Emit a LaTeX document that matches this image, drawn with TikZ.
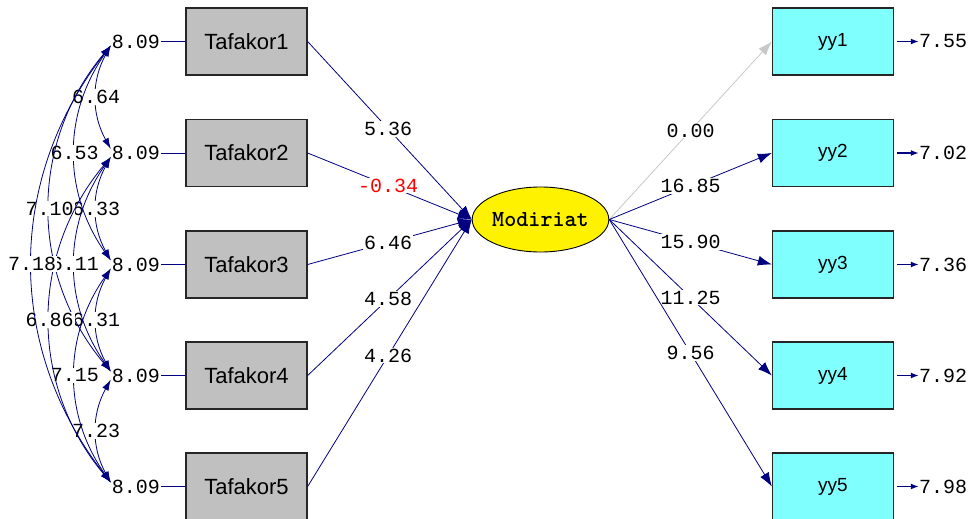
\documentclass[tikz,border=0pt]{standalone}
\usepackage{fontspec}
\usetikzlibrary{shapes.geometric,arrows.meta}
\newfontfamily\numfont{Liberation Mono}
\newfontfamily\boxfont{Liberation Sans}
\definecolor{pathblue}{RGB}{0,0,128}
\definecolor{boxgray}{RGB}{192,192,192}
\definecolor{boxcyan}{RGB}{128,255,255}
\definecolor{fadeline}{RGB}{200,200,200}

\tikzset{
  xbox/.style={draw=black!85, line width=1.3pt, fill=boxgray, minimum width=121pt,
    minimum height=67pt, inner sep=0pt, font=\boxfont\fontsize{22}{22}\selectfont},
  ybox/.style={xbox, fill=boxcyan, font=\boxfont\fontsize{19}{19}\selectfont},
  latent/.style={ellipse, draw=black, line width=0.9pt, fill=yellow, minimum width=117pt,
    minimum height=65pt, inner sep=0pt, font=\ttfamily\bfseries\fontsize{23}{23}\selectfont},
  val/.style={fill=white, text=black, inner sep=1pt, font=\numfont\fontsize{20}{20}\selectfont},
  coef/.style={pathblue, line width=0.8pt, -{Latex[length=14pt,width=10pt]}},
  cov/.style={pathblue, line width=0.8pt, {Latex[length=11pt,width=7pt]}-{Latex[length=11pt,width=7pt]}},
  errarr/.style={pathblue, line width=1.4pt, shorten <=3pt, -{Latex[length=8pt,width=6pt]}}
}

\begin{document}
\begin{tikzpicture}[x=1pt,y=-1pt]
\useasboundingbox (0,0) rectangle (975,519);

% latent variable
\node[latent] (mod) at (540.5,219.5) {Modiriat};

% exogenous boxes and their variances
\foreach \i/\yy in {1/41.5,2/153,3/264.5,4/375.5,5/486.5} {
  \node[xbox] (t\i) at (246.5,\yy) {Tafakor\i};
  \node[val] (e\i) at (136,\yy) {8.09};
  \draw[pathblue, line width=0.8pt] (e\i) -- (t\i);
}

% indicators and error variances
\foreach \i/\yy/\v in {1/41.5/7.55,2/153/7.02,3/264.5/7.36,4/375.5/7.92,5/486.5/7.98} {
  \node[ybox] (y\i) at (833,\yy) {yy\i};
  \node[val, inner sep=0pt] (r\i) at (943,\yy) {\v};
  \draw[errarr] (y\i) -- (r\i);
}

% paths into Modiriat
\foreach \i/\v in {1/5.36,3/6.46,4/4.58,5/4.26}
  \draw[coef] (t\i.east) -- node[val, pos=0.49] (k\i) {\v} (mod.west);
\draw[coef] (t2.east) -- node[val, pos=0.49, text=red] (k2) {-0.34} (mod.west);

% loadings
\draw[coef, fadeline] (mod.east) -- node[val, pos=0.5] (l1) {0.00} (y1.west);
\foreach \i/\v in {2/16.85,3/15.90,4/11.25,5/9.56}
  \draw[coef] (mod.east) -- node[val, pos=0.5] (l\i) {\v} (y\i.west);

% covariances
\foreach \a/\b/\v/\bend in {1/2/6.64/29,2/3/6.33/29,3/4/6.31/29,4/5/7.23/29,
    1/3/6.53/35,2/4/6.11/35,3/5/7.15/35,1/4/7.10/40,2/5/6.86/40,1/5/7.18/38}
  \draw[cov] ([yshift=-4pt]e\a.west) to[bend right=\bend] node[val] (c\a\b) {\v} ([yshift=4pt]e\b.west);

\end{tikzpicture}
\end{document}
